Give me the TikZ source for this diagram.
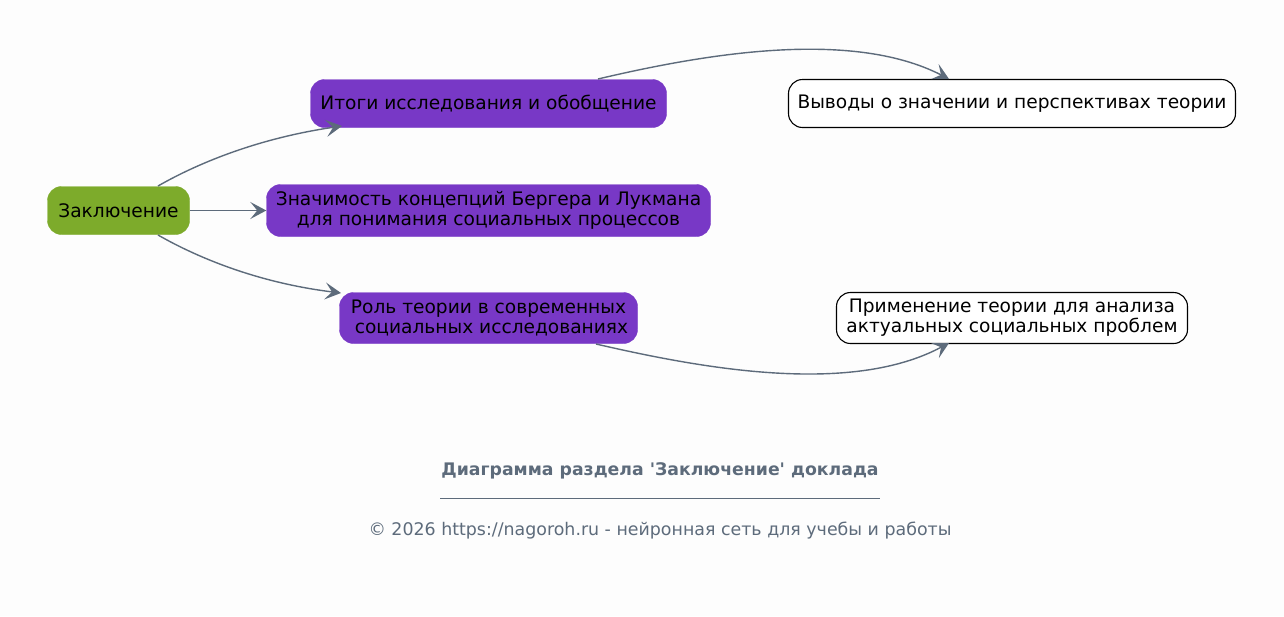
\documentclass[tikz,border=0pt]{standalone}
\usepackage{fontspec}
\setmainfont{DejaVu Sans}
\usetikzlibrary{arrows.meta}
\definecolor{bg}{RGB}{253,253,253}
\definecolor{purp}{RGB}{120,56,198}
\definecolor{grn}{RGB}{125,171,43}
\definecolor{edge}{RGB}{93,107,123}
\tikzset{
  base/.style={rounded corners=14pt, inner sep=0pt, align=center,
    font=\fontsize{18.6}{20}\selectfont, text=black},
  rootbox/.style={base, fill=grn, draw=grn},
  midbox/.style={base, fill=purp, draw=purp},
  leafbox/.style={base, fill=white, draw=black, line width=1.1pt},
  conn/.style={draw=edge, line width=1.4pt,
    -{Stealth[length=16pt, width=17pt, inset=7pt]}},
}
\begin{document}
\begin{tikzpicture}[x=1pt, y=-1pt]
\fill[bg] (0,0) rectangle (1284,616);
\useasboundingbox (0,0) rectangle (1284,616);

\node[rootbox, minimum width=142pt, minimum height=48pt] (root) at (118.5,210.5) {Заключение};
\node[midbox, minimum width=356pt, minimum height=48pt] (a) at (488.5,103.5) {Итоги исследования и обобщение};
\node[midbox, minimum width=444pt, minimum height=52pt] (b) at (488.5,210.5) {Значимость концепций Бергера и Лукмана\\для понимания социальных процессов};
\node[midbox, minimum width=298pt, minimum height=51pt] (c) at (488.5,318) {Роль теории в современных\\\hspace*{0.32em}социальных исследованиях};
\node[leafbox, minimum width=447pt, minimum height=48pt] (d) at (1012,103.5) {Выводы о значении и перспективах теории};
\node[leafbox, minimum width=351pt, minimum height=51pt] (e) at (1012,318) {Применение теории для анализа\\актуальных социальных проблем};

\coordinate (r1) at (158,186);
\coordinate (r3) at (158,235);
\coordinate (a1) at (342,126);
\coordinate (c1) at (341,293);
\coordinate (a2) at (598,79);
\coordinate (d1) at (949,79);
\coordinate (c2) at (596,344);
\coordinate (e1) at (949,343);

\draw[conn] (r1) .. controls (200,162) and (260,138) .. (a1);
\draw[conn] (root.east) -- (b.west);
\draw[conn] (r3) .. controls (200,259) and (260,283) .. (c1);
\draw[conn] (a2) .. controls (700,55) and (850,28) .. (d1);
\draw[conn] (c2) .. controls (700,368) and (850,396) .. (e1);

\node[font=\bfseries\fontsize{17.3}{20}\selectfont, text=edge] (title) at (660,471) {Диаграмма раздела \textquotesingle Заключение\textquotesingle{} доклада};
\coordinate (l1) at (440,498.5);
\coordinate (l2) at (880,498.5);
\draw[edge, line width=0.8pt] (l1) -- (l2);
\node[font=\fontsize{17.4}{20}\selectfont, text=edge] (copy) at (660,531) {© 2026 https://nagoroh.ru - нейронная сеть для учебы и работы};
\end{tikzpicture}
\end{document}
